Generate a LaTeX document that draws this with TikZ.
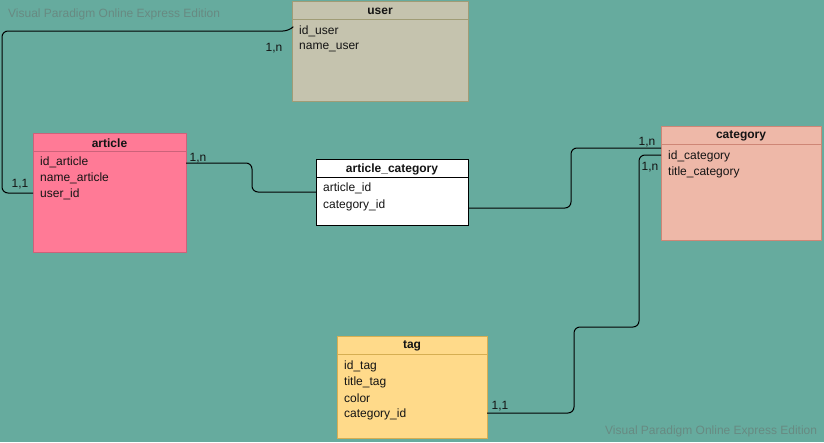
\documentclass[tikz,border=0pt]{standalone}
\usepackage{fontspec}
\setmainfont{Liberation Sans}
\usetikzlibrary{calc}

\definecolor{bgteal}{RGB}{102,171,158}
\definecolor{userfill}{RGB}{197,195,174}
\definecolor{userline}{RGB}{160,156,118}
\definecolor{articlefill}{RGB}{255,122,150}
\definecolor{articleline}{RGB}{204,98,122}
\definecolor{catfill}{RGB}{238,184,168}
\definecolor{catline}{RGB}{206,134,118}
\definecolor{tagfill}{RGB}{255,218,138}
\definecolor{tagline}{RGB}{214,174,82}
\definecolor{markgray}{RGB}{104,138,130}
\definecolor{inkcol}{RGB}{20,20,20}

\tikzset{
	entity/.style={draw, anchor=north west, inner sep=0pt, outer sep=0pt, line width=1pt},
	title/.style={font=\fontsize{12}{14}\selectfont\bfseries, text=inkcol, inner sep=0pt},
	field/.style={font=\fontsize{12}{14}\selectfont, text=inkcol, anchor=west, inner sep=0pt},
	card/.style={font=\fontsize{12}{14}\selectfont, text=inkcol, inner sep=0pt},
	conn/.style={draw=black, line width=1pt, rounded corners=6pt},
	watermark/.style={font=\fontsize{12}{14}\selectfont, text=markgray, anchor=west, inner sep=0pt}
}

\begin{document}
\begin{tikzpicture}[x=1pt,y=-1pt]
		\fill[bgteal] (0,0) rectangle (824,442);
		\useasboundingbox (0,0) rectangle (824,442);
		
		\node[watermark] (wmtop) at (8,14) {Visual Paradigm Online Express Edition};
		\node[watermark] (wmbottom) at (605,431) {Visual Paradigm Online Express Edition};
		
		% user
		\node[entity, fill=userfill, draw=userline, minimum width=176pt, minimum height=100pt] (user) at (292,1) {};
		\draw[userline, line width=1pt] ([yshift=-18pt]user.north west) -- ([yshift=-18pt]user.north east);
		\node[title] (usertitle) at (380,11) {user};
		\node[field] (iduser) at (299,31) {id\_user};
		\node[field] (nameuser) at (299,47) {name\_user};
		
		% article
		\node[entity, fill=articlefill, draw=articleline, minimum width=153pt, minimum height=119pt] (article) at (33,133) {};
		\draw[articleline, line width=1pt] ([yshift=-18pt]article.north west) -- ([yshift=-18pt]article.north east);
		\node[title] (articletitle) at (109.5,143) {article};
		\node[field] (idarticle) at (40,162) {id\_article};
		\node[field] (namearticle) at (40,178) {name\_article};
		\node[field] (userid) at (40,194) {user\_id};
		
		% article_category
		\node[entity, fill=white, draw=black, minimum width=152pt, minimum height=66pt] (ac) at (316,159) {};
		\draw[black, line width=1pt] ([yshift=-18pt]ac.north west) -- ([yshift=-18pt]ac.north east);
		\node[title] (actitle) at (392,169) {article\_category};
		\node[field] (acarticle) at (323,188) {article\_id};
		\node[field] (accategory) at (323,205) {category\_id};
		
		% category
		\node[entity, fill=catfill, draw=catline, minimum width=160pt, minimum height=114pt] (cat) at (661,126) {};
		\draw[catline, line width=1pt] ([yshift=-18pt]cat.north west) -- ([yshift=-18pt]cat.north east);
		\node[title] (cattitle) at (741,136) {category};
		\node[field] (idcat) at (668,156) {id\_category};
		\node[field] (titlecat) at (668,172) {title\_category};
		
		% tag
		\node[entity, fill=tagfill, draw=tagline, minimum width=150pt, minimum height=102pt] (tag) at (337,336) {};
		\draw[tagline, line width=1pt] ([yshift=-18pt]tag.north west) -- ([yshift=-18pt]tag.north east);
		\node[title] (tagtitle) at (412,346) {tag};
		\node[field] (idtag) at (344,366) {id\_tag};
		\node[field] (titletag) at (344,382) {title\_tag};
		\node[field] (color) at (344,398) {color};
		\node[field] (catid) at (344,414) {category\_id};
		
		% connectors
		\draw[conn] (user.west |- 0,28) -- (289,31) -- (2,31) -- (2,193) -- (article.west |- 0,193);
		\draw[conn] (article.east |- 0,163) -- (252,163) -- (252,192) -- (ac.west);
		\draw[conn] (ac.east |- 0,208) -- (571,208) -- (571,148) -- (cat.west |- 0,148);
		\draw[conn] (tag.east |- 0,413) -- (574,413) -- (574,327) -- (639,327) -- (639,155) -- (cat.west |- 0,155);
		
		\node[card] (carduser) at (274,48) {1,n};
		\node[card] (cardarticleuser) at (20,184) {1,1};
		\node[card] (cardarticleac) at (198,158) {1,n};
		\node[card] (cardcatac) at (647,142) {1,n};
		\node[card] (cardcattag) at (650,167) {1,n};
		\node[card] (cardtag) at (500,406) {1,1};
	
	\end{tikzpicture}
\end{document}
